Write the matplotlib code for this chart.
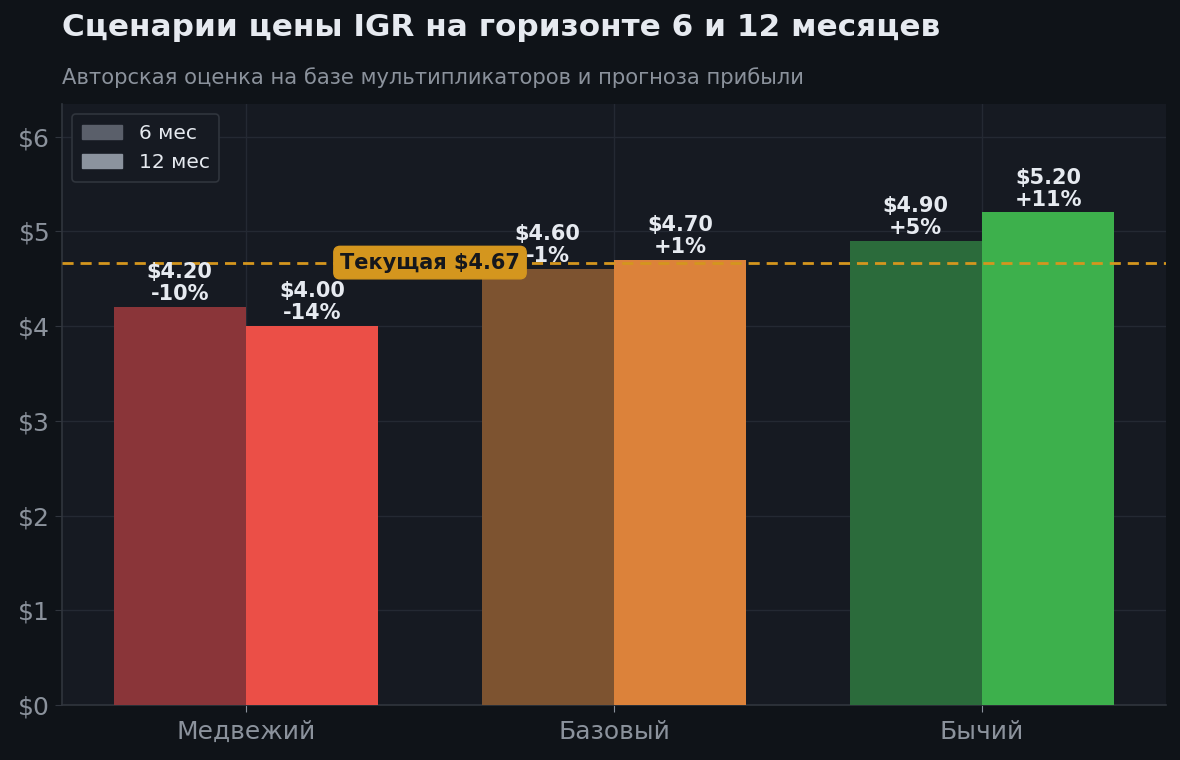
import matplotlib
matplotlib.use("Agg")
import matplotlib.pyplot as plt
import numpy as np

scenarios = ["Медвежий", "Базовый", "Бычий"]
price_6m = [4.20, 4.60, 4.90]
price_12m = [4.00, 4.70, 5.20]
current_price = 4.67
yticks = [0, 1, 2, 3, 4, 5, 6]

colors_12m = ["#EB4F47", "#DC823A", "#3DB04C"]
colors_6m = ["#8A3539", "#7D5330", "#2B6B3B"]

FIG_BG = "#0F1318"
AX_BG = "#161A22"
GRID = "#242933"
TXT = "#E6EAF0"
MUTED = "#8B929C"
GOLD = "#D4961E"

plt.rcParams['font.family'] = ['DejaVu Sans']

fig = plt.figure(figsize=(11.8, 7.6), dpi=100, facecolor=FIG_BG)
ax = fig.add_axes([62/1180, 1 - 705/760, (1166-62)/1180, (705-104)/760])
ax.set_facecolor(AX_BG)

x = np.arange(len(scenarios))
w = 0.36
b6 = ax.bar(x - w/2, price_6m, w, color=colors_6m, label="6 мес", zorder=3)
b12 = ax.bar(x + w/2, price_12m, w, color=colors_12m, label="12 мес", zorder=3)

for bars, vals in ((b6, price_6m), (b12, price_12m)):
    for rect, v in zip(bars, vals):
        pct = (v / current_price - 1) * 100
        ax.text(rect.get_x() + rect.get_width()/2, v + 0.03,
                f"${v:.2f}\n{pct:+.0f}%", ha="center", va="bottom",
                color=TXT, fontsize=15, fontweight="bold", linespacing=1.12, zorder=5)

ax.axhline(current_price, color=GOLD, linestyle=(0, (4, 2.5)), linewidth=2, zorder=4)
ax.text(0.5, current_price, f"Текущая ${current_price:.2f}", ha="center", va="center",
        fontsize=15, fontweight="bold", color="#15171C", zorder=6,
        bbox=dict(boxstyle="round,pad=0.3", facecolor=GOLD, edgecolor=GOLD))

ax.set_xlim(-0.5, 2.5)
ax.set_ylim(0, max(price_12m) * 1.22)
ax.set_xticks(x)
ax.set_xticklabels(scenarios)
ax.set_yticks(yticks)
ax.set_yticklabels([f"${t}" for t in yticks])
ax.tick_params(axis="both", colors=MUTED, labelsize=18, length=5)
ax.tick_params(axis="x", pad=6, color="#8B929C")
ax.tick_params(axis="y", color="#30353D")
ax.grid(True, color=GRID, linewidth=1, zorder=0)
ax.set_axisbelow(True)
for s in ("top", "right"):
    ax.spines[s].set_visible(False)
for s in ("left", "bottom"):
    ax.spines[s].set_color("#30353D")
    ax.spines[s].set_linewidth(1.2)

leg = ax.legend(loc="upper left", fontsize=14.5, facecolor=AX_BG, edgecolor="#30353D",
                labelcolor=TXT, framealpha=1, handlelength=2.0, handleheight=0.7,
                borderpad=0.5, fancybox=True)
leg.get_frame().set_linewidth(1.2)
leg.legend_handles[0].set_color("#5A5F6A")
leg.legend_handles[1].set_color("#8B939E")

fig.text(62/1180, 1 - 28/760, "Сценарии цены IGR на горизонте 6 и 12 месяцев",
         fontsize=22.4, fontweight="bold", color=TXT, ha="left", va="center")
fig.text(62/1180, 1 - 78/760, "Авторская оценка на базе мультипликаторов и прогноза прибыли",
         fontsize=15.2, color=MUTED, ha="left", va="center")

fig.savefig("out.png", dpi=100, facecolor=FIG_BG)
